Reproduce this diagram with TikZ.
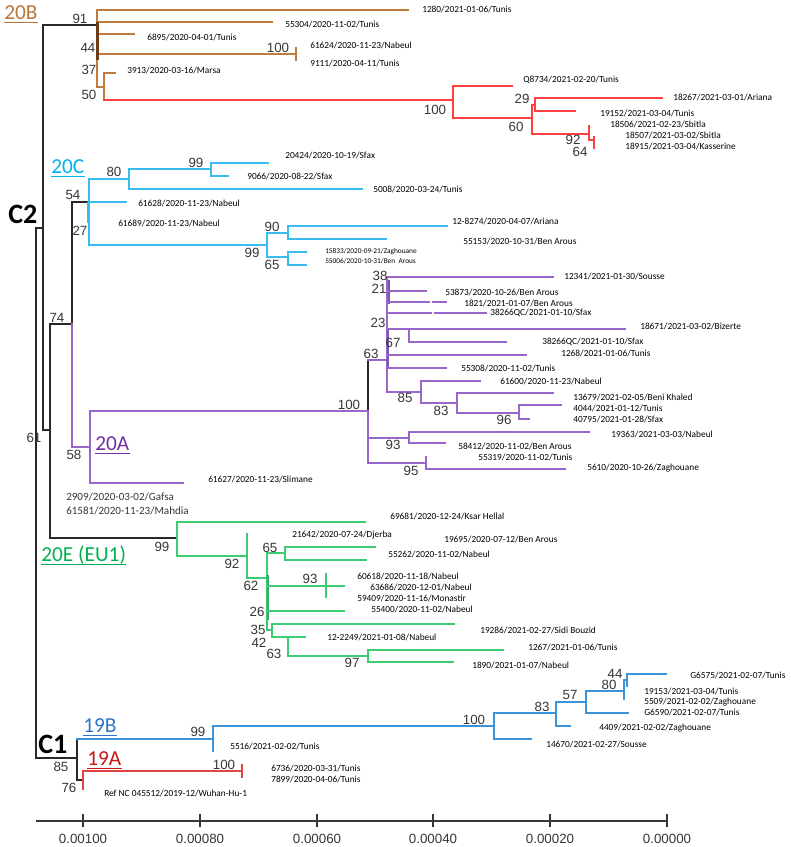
\documentclass[tikz,border=0pt]{standalone}
\usepackage{fontspec}
\setmainfont{Carlito}
\newfontfamily\arialf{Liberation Sans}
\definecolor{brn}{RGB}{190,125,60}
\definecolor{brnd}{RGB}{110,60,20}
\definecolor{rd}{RGB}{255,64,64}
\definecolor{cy}{RGB}{56,189,240}
\definecolor{pu}{RGB}{153,102,204}
\definecolor{gr}{RGB}{60,205,115}
\definecolor{bl}{RGB}{58,148,219}
\definecolor{rdA}{RGB}{222,68,68}
\definecolor{blk}{RGB}{40,40,40}
\definecolor{sgrey}{RGB}{55,55,55}
\definecolor{t20B}{RGB}{184,118,58}
\definecolor{t20C}{RGB}{0,176,240}
\definecolor{t20A}{RGB}{112,48,160}
\definecolor{t20E}{RGB}{0,176,80}
\definecolor{t19B}{RGB}{46,117,200}
\definecolor{t19A}{RGB}{200,20,20}
\newcommand\leafnode[3]{\node[lf] (#1) at (#2) {#3};}
\newcommand\supnode[3]{\node[bs] (#1) at (#2) {#3};}
\tikzset{
  lf/.style={font=\fontsize{7}{8}\selectfont, anchor=west, inner sep=0pt},
  lfs/.style={font=\fontsize{5.5}{6}\selectfont, anchor=west, inner sep=0pt},
  lfg/.style={font=\fontsize{8.3}{9}\selectfont, text=sgrey, anchor=west, inner sep=0pt},
  bs/.style={font=\arialf\fontsize{10}{12}\selectfont, text=sgrey, inner sep=0pt},
  cl/.style={font=\fontsize{16}{18}\selectfont, anchor=base west, inner sep=0pt},
  cc/.style={font=\bfseries\fontsize{21}{24}\selectfont, anchor=base west, inner sep=0pt},
  br/.style={line width=1.1pt, line cap=rect},
  ul/.style={line width=1.4pt},
  ax/.style={line width=1.1pt, draw=sgrey},
}
\begin{document}
\begin{tikzpicture}[x=0.75pt,y=-0.75pt]
\useasboundingbox (0,0) rectangle (791,847);
\fill[white] (0,0) rectangle (791,847);

% ---------- black backbone ----------
\draw[br,blk] (97,25) -- (43,25) -- (43,430) -- (50,430);
\draw[br,blk] (43,228) -- (36,228) -- (36,758) -- (77,758);
\draw[br,blk] (50,324) -- (50,538) -- (177,538);
\draw[br,blk] (50,324) -- (72,324) -- (72,202) -- (89,202);
\draw[br,blk] (77,739) -- (77,780) -- (83,780);
\draw[br,blk] (368,360) -- (368,411);

% ---------- 20B (brown) ----------
\draw[br,brn] (97,10) -- (97,87) -- (104,87);
\draw[br,brn] (97,10) -- (408,10);
\draw[br,brn] (97,22) -- (272,22);
\draw[br,brn] (97,34) -- (134,34);
\draw[br,brn] (97,54) -- (296,54);
\draw[br,brn] (296,48) -- (296,60);
\draw[br,brn] (115,73) -- (104,73) -- (104,100);
\draw[line width=2pt,brnd] (97.5,22) -- (97.5,60);

% ---------- red subclade ----------
\draw[br,rd] (104,100) -- (453,100);
\draw[br,rd] (512,86) -- (453,86) -- (453,118) -- (532,118);
\draw[br,rd] (532,105) -- (532,134);
\draw[br,rd] (532,105) -- (535,105);
\draw[br,rd] (662,98) -- (535,98) -- (535,111) -- (575,111);
\draw[br,rd] (532,134) -- (589,134);
\draw[br,rd] (589,126) -- (589,140) -- (594,140);
\draw[br,rd] (594,137) -- (594,148);

% ---------- 20C (cyan) ----------
\draw[br,cy] (129,179) -- (89,179) -- (89,245) -- (267,245);
\draw[line width=1.8pt,cy] (88.5,202) -- (88.5,223);
\draw[br,cy] (211,169) -- (129,169) -- (129,189) -- (362,189);
\draw[br,cy] (268,163) -- (211,163) -- (211,176) -- (228,176);
\draw[br,cy] (89,202) -- (126,202);
\draw[br,cy] (288,233) -- (267,233) -- (267,257) -- (288,257);
\draw[br,cy] (447,226) -- (288,226) -- (288,239) -- (386,239);
\draw[br,cy] (306,252) -- (288,252) -- (288,265) -- (306,265);

% ---------- 20A (purple) ----------
\draw[br,pu] (72,324) -- (72,447) -- (90,447);
\draw[br,pu] (368,411) -- (90,411) -- (90,483) -- (183,483);
\draw[br,pu] (368,411) -- (368,463);
\draw[br,pu] (368,360) -- (387,360);
\draw[br,pu] (387,277) -- (387,392);
\draw[line width=1.8pt,pu!80!black] (389,280) -- (389,304);
\draw[line width=1.6pt,pu!85!black] (388,330) -- (388,368);
\draw[br,pu] (389,277) -- (553,277);
\draw[br,pu] (389,291) -- (426,291);
\draw[br,pu] (389,302) -- (429,302);
\draw[br,pu] (433,302) -- (446,302);
\draw[br,pu] (387,313) -- (431,313);
\draw[br,pu] (435,313) -- (486,313);
\draw[br,pu] (387,329) -- (409,329);
\draw[br,pu] (625,329) -- (409,329) -- (409,342) -- (506,342);
\draw[br,pu] (387,355) -- (526,355);
\draw[br,pu] (387,368) -- (446,368);
\draw[br,pu] (387,392) -- (421,392);
\draw[br,pu] (480,381) -- (421,381) -- (421,403) -- (457,403);
\draw[br,pu] (553,393) -- (457,393) -- (457,413) -- (519,413);
\draw[br,pu] (561,405) -- (519,405) -- (519,419) -- (529,419);
\draw[br,pu] (368,438) -- (409,438);
\draw[br,pu] (589,432) -- (409,432) -- (409,443) -- (445,443);
\draw[br,pu] (368,463) -- (426,463);
\draw[br,pu] (426,457) -- (426,469) -- (565,469);

% ---------- 20E (green) ----------
\draw[br,gr] (365,522) -- (177,522) -- (177,556) -- (247,556);
\draw[br,gr] (247,534) -- (247,578) -- (267,578);
\draw[br,gr] (267,553) -- (267,630) -- (272,630);
\draw[line width=1.8pt,gr!85!black] (268,575) -- (268,620);
\draw[br,gr] (267,553) -- (285,553);
\draw[br,gr] (375,547) -- (285,547) -- (285,560) -- (366,560);
\draw[br,gr] (267,586) -- (344,586);
\draw[br,gr] (326,574) -- (326,597);
\draw[br,gr] (267,611) -- (344,611);
\draw[br,gr] (454,624) -- (272,624) -- (272,637) -- (305,637);
\draw[br,gr] (288,637) -- (288,656) -- (368,656);
\draw[br,gr] (503,650) -- (368,650) -- (368,662) -- (453,662);

% ---------- 19B (blue) ----------
\draw[br,bl] (77,739) -- (213,739);
\draw[br,bl] (213,751) -- (213,726) -- (494,726);
\draw[br,bl] (556,713) -- (494,713) -- (494,739) -- (531,739);
\draw[br,bl] (586,702) -- (556,702) -- (556,726) -- (570,726);
\draw[br,bl] (624,691) -- (586,691) -- (586,713) -- (628,713);
\draw[br,bl] (624,680) -- (624,699);
\draw[br,bl] (624,680) -- (627,680);
\draw[br,bl] (627,686) -- (627,674) -- (666,674);

% ---------- 19A (red) ----------
\draw[br,rdA] (83,789) -- (83,771) -- (242,771);
\draw[br,rdA] (242,765) -- (242,777);

% ---------- axis ----------
\draw[ax] (36,821) -- (667,821);
\foreach \xx/\lab [count=\i] in {83/0.00100,200/0.00080,317/0.00060,433/0.00040,550/0.00020,667/0.00000}{
  \draw[ax] (\xx,814) -- (\xx,827);
  \node[bs] (ax\i) at (\xx,839) {\lab};
}

% ---------- clade labels ----------
\node[cl,text=t20B] (c20B) at (4,19) {20B};
\node[cl,text=t20C] (c20C) at (51,173) {20C};
\node[cl,text=t20A] (c20A) at (95,450) {20A};
\node[cl,text=t20E] (c20E) at (41,561) {20E (EU1)};
\node[cl,text=t19B] (c19B) at (83,732) {19B};
\node[cl,text=t19A] (c19A) at (87,765) {19A};
\foreach \n/\c in {c20B/t20B,c20C/t20C,c20A/t20A,c20E/t20E,c19B/t19B,c19A/t19A}{
  \draw[ul,\c] ([yshift=-2.6pt]\n.base west) -- ([yshift=-2.6pt]\n.base east);
}
\node[cc] (cC2) at (8,223) {C2};
\node[cc] (cC1) at (38,753) {C1};

% ---------- support values ----------
\supnode{s1}{80,19}{91}
\supnode{s2}{88,48}{44}
\supnode{s3}{89,70}{37}
\supnode{s4}{89,95}{50}
\supnode{s5}{278,48}{100}
\supnode{s6}{435,110}{100}
\supnode{s7}{522,99}{29}
\supnode{s8}{516,127}{60}
\supnode{s9}{573,140}{92}
\supnode{s10}{580,152}{64}
\supnode{s11}{114,172}{80}
\supnode{s12}{196,163}{99}
\supnode{s13}{73,195}{54}
\supnode{s14}{80,231}{27}
\supnode{s15}{272,227}{90}
\supnode{s16}{252,253}{99}
\supnode{s17}{272,265}{65}
\supnode{s18}{57,318}{74}
\supnode{s19}{34,438}{61}
\supnode{s20}{349,405}{100}
\supnode{s21}{371,354}{63}
\supnode{s22}{380,276}{38}
\supnode{s23}{379,289}{21}
\supnode{s24}{378,323}{23}
\supnode{s25}{393,343}{67}
\supnode{s26}{405,398}{85}
\supnode{s27}{441,411}{83}
\supnode{s28}{504,420}{96}
\supnode{s29}{393,445}{93}
\supnode{s30}{411,471}{95}
\supnode{s31}{74,455}{58}
\supnode{s32}{162,547}{99}
\supnode{s33}{232,564}{92}
\supnode{s34}{270,548}{65}
\supnode{s35}{251,586}{62}
\supnode{s36}{310,579}{93}
\supnode{s37}{257,612}{26}
\supnode{s38}{258,630}{35}
\supnode{s39}{259,643}{42}
\supnode{s40}{274,654}{63}
\supnode{s41}{352,663}{97}
\supnode{s42}{474,720}{100}
\supnode{s43}{542,707}{83}
\supnode{s44}{570,695}{57}
\supnode{s45}{609,685}{80}
\supnode{s46}{615,674}{44}
\supnode{s47}{198,732}{99}
\supnode{s48}{61,767}{85}
\supnode{s49}{69,788}{76}
\supnode{s50}{224,765}{100}

% ---------- leaf labels ----------
\leafnode{l1}{422,9}{1280/2021-01-06/Tunis}
\leafnode{l2}{285,24}{55304/2020-11-02/Tunis}
\leafnode{l3}{147,37}{6895/2020-04-01/Tunis}
\leafnode{l4}{310,45}{61624/2020-11-23/Nabeul}
\leafnode{l5}{310,63}{9111/2020-04-11/Tunis}
\leafnode{l6}{127,70}{3913/2020-03-16/Marsa}
\leafnode{l7}{523,80}{Q8734/2021-02-20/Tunis}
\leafnode{l8}{673,97}{18267/2021-03-01/Ariana}
\leafnode{l9}{600,113}{19152/2021-03-04/Tunis}
\leafnode{l10}{610,124}{18506/2021-02-23/Sbitla}
\leafnode{l11}{625,135}{18507/2021-03-02/Sbitla}
\leafnode{l12}{625,146}{18915/2021-03-04/Kasserine}
\leafnode{l13}{285,155}{20424/2020-10-19/Sfax}
\leafnode{l14}{247,176}{9066/2020-08-22/Sfax}
\leafnode{l15}{373,189}{5008/2020-03-24/Tunis}
\leafnode{l16}{138,203}{61628/2020-11-23/Nabeul}
\leafnode{l17}{118,223}{61689/2020-11-23/Nabeul}
\leafnode{l18}{452,221}{12-8274/2020-04-07/Ariana}
\leafnode{l19}{463,241}{55153/2020-10-31/Ben Arous}
\node[lfs] (l20) at (325,252) {15833/2020-09-21/Zaghouane};
\node[lfs] (l21) at (325,261) {55006/2020-10-31/Ben\ \ Arous};
\leafnode{l22}{564,276}{12341/2021-01-30/Sousse}
\leafnode{l23}{445,292}{53873/2020-10-26/Ben Arous}
\leafnode{l24}{464,303}{1821/2021-01-07/Ben Arous}
\leafnode{l25}{490,313}{38266QC/2021-01-10/Sfax}
\leafnode{l26}{640,326}{18671/2021-03-02/Bizerte}
\leafnode{l27}{542,342}{38266QC/2021-01-10/Sfax}
\leafnode{l28}{561,353}{1268/2021-01-06/Tunis}
\leafnode{l29}{461,368}{55308/2020-11-02/Tunis}
\leafnode{l30}{500,381}{61600/2020-11-23/Nabeul}
\leafnode{l31}{573,397}{13679/2021-02-05/Beni Khaled}
\leafnode{l32}{573,408}{4044/2021-01-12/Tunis}
\leafnode{l33}{573,419}{40795/2021-01-28/Sfax}
\leafnode{l34}{611,434}{19363/2021-03-03/Nabeul}
\leafnode{l35}{458,446}{58412/2020-11-02/Ben Arous}
\leafnode{l36}{478,457}{55319/2020-11-02/Tunis}
\leafnode{l37}{587,468}{5610/2020-10-26/Zaghouane}
\leafnode{l38}{208,479}{61627/2020-11-23/Slimane}
\node[lfg] (l39) at (66,497) {2909/2020-03-02/Gafsa};
\node[lfg] (l40) at (66,511) {61581/2020-11-23/Mahdia};
\leafnode{l41}{390,516}{69681/2020-12-24/Ksar Hellal}
\leafnode{l42}{292,535}{21642/2020-07-24/Djerba}
\leafnode{l43}{444,539}{19695/2020-07-12/Ben Arous}
\leafnode{l44}{388,554}{55262/2020-11-02/Nabeul}
\leafnode{l45}{357,576}{60618/2020-11-18/Nabeul}
\leafnode{l46}{370,587}{63686/2020-12-01/Nabeul}
\leafnode{l47}{357,598}{59409/2020-11-16/Monastir}
\leafnode{l48}{371,609}{55400/2020-11-02/Nabeul}
\leafnode{l49}{480,630}{19286/2021-02-27/Sidi Bouzid}
\leafnode{l50}{327,637}{12-2249/2021-01-08/Nabeul}
\leafnode{l51}{528,647}{1267/2021-01-06/Tunis}
\leafnode{l52}{472,665}{1890/2021-01-07/Nabeul}
\leafnode{l53}{690,675}{G6575/2021-02-07/Tunis}
\leafnode{l54}{644,691}{19153/2021-03-04/Tunis}
\leafnode{l55}{644,702}{5509/2021-02-02/Zaghouane}
\leafnode{l56}{644,712}{G6590/2021-02-07/Tunis}
\leafnode{l57}{599,728}{4409/2021-02-02/Zaghouane}
\leafnode{l58}{546,744}{14670/2021-02-27/Sousse}
\leafnode{l59}{230,746}{5516/2021-02-02/Tunis}
\leafnode{l60}{271,768}{6736/2020-03-31/Tunis}
\leafnode{l61}{271,779}{7899/2020-04-06/Tunis}
\leafnode{l62}{104,793}{Ref NC 045512/2019-12/Wuhan-Hu-1}
\end{tikzpicture}
\end{document}
